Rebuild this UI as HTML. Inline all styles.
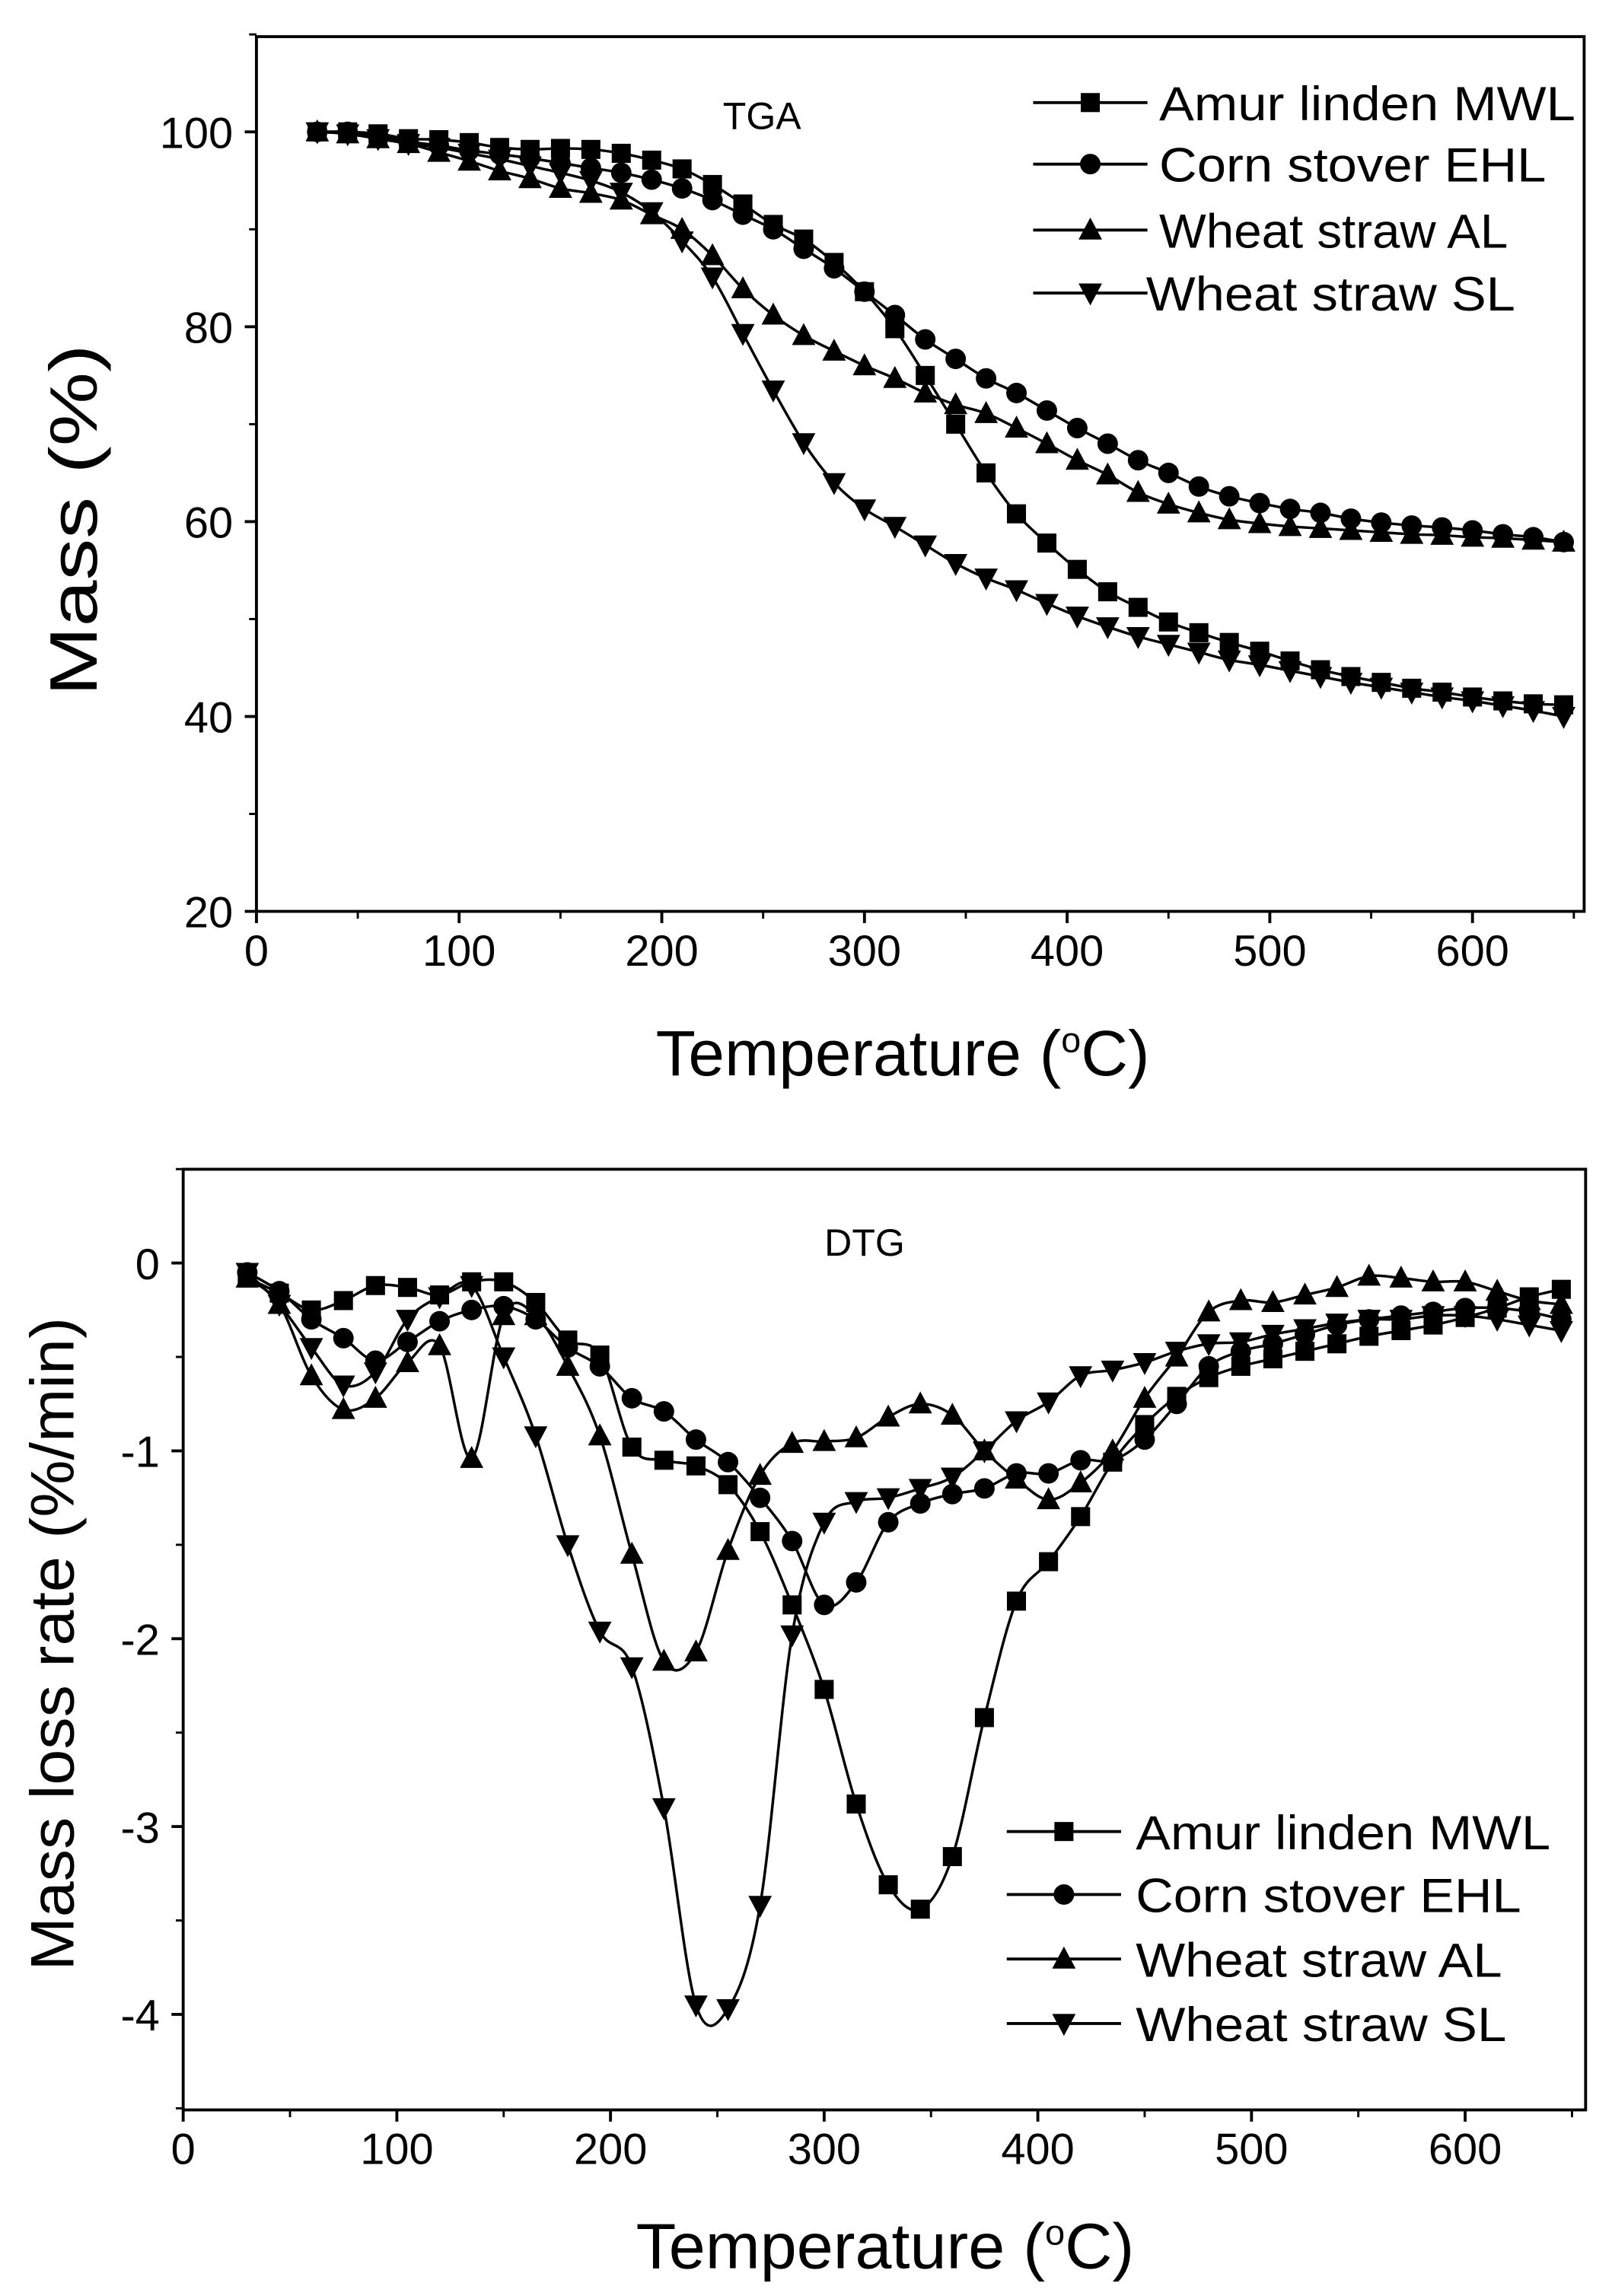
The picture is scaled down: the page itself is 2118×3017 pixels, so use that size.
<!DOCTYPE html>
<html><head><meta charset="utf-8"><style>
html,body{margin:0;padding:0;background:#fff;}
svg{display:block;}
text{font-family:"Liberation Sans",Arial,sans-serif;fill:#000;}
</style></head><body>
<svg id="fig" xmlns="http://www.w3.org/2000/svg" width="2118" height="3017" viewBox="0 0 1100 1567" preserveAspectRatio="none">
<g id="topchart"></g>
<g id="botchart"></g>
</svg>
<script>
const temps = [30,45,60,75,90,105,120,135,150,165,180,195,210,225,240,255,270,285,300,315,330,345,360,375,390,405,420,435,450,465,480,495,510,525,540,555,570,585,600,615,630,645];
const seriesNames = ["Amur linden MWL","Corn stover EHL","Wheat straw AL","Wheat straw SL"];
const tgaMWL = [100,100,99.8,99.3,99.2,98.9,98.4,98.2,98.3,98.2,97.8,97.1,96.2,94.6,92.6,90.5,89.0,86.6,83.6,79.8,75.0,70.0,65.0,60.8,57.8,55.1,52.8,51.2,49.7,48.6,47.6,46.7,45.7,44.8,44.1,43.5,42.9,42.5,42.0,41.6,41.3,41.2];
const tgaEHL = [100,100,99.6,99.0,98.6,98.1,97.7,97.3,96.8,96.3,95.8,95.1,94.2,93.0,91.5,90.0,88.0,86.0,83.6,81.2,78.7,76.7,74.7,73.2,71.4,69.6,68.0,66.3,65.0,63.6,62.6,61.9,61.3,60.9,60.3,59.9,59.6,59.4,59.1,58.7,58.4,57.9];
const tgaAL = [100,99.8,99.3,98.8,97.9,97.0,96.0,95.2,94.2,93.7,93.0,91.5,90.0,87.3,83.9,81.2,79.1,77.5,76.0,74.7,73.2,72.0,71.1,69.6,68.0,66.3,64.8,63.0,61.8,60.9,60.2,59.8,59.5,59.3,59.1,58.9,58.7,58.6,58.4,58.3,58.1,57.9];
const tgaSL = [100,99.8,99.3,98.8,98.4,97.8,97.2,96.5,95.8,95.0,93.8,91.8,88.8,85.1,79.3,73.5,68.1,64.0,61.3,59.5,57.6,55.7,54.2,53.0,51.6,50.3,49.2,48.2,47.4,46.6,45.8,45.3,44.7,44.1,43.5,43.0,42.5,42.0,41.6,41.1,40.6,40.0];
const dtgMWL = [-0.08,-0.16,-0.25,-0.2,-0.12,-0.13,-0.17,-0.1,-0.1,-0.21,-0.41,-0.49,-0.98,-1.05,-1.08,-1.18,-1.43,-1.82,-2.27,-2.88,-3.31,-3.44,-3.16,-2.42,-1.8,-1.59,-1.35,-1.06,-0.86,-0.71,-0.61,-0.55,-0.51,-0.47,-0.43,-0.39,-0.36,-0.33,-0.29,-0.24,-0.18,-0.14];
const dtgEHL = [-0.05,-0.15,-0.3,-0.4,-0.52,-0.42,-0.31,-0.25,-0.23,-0.3,-0.45,-0.55,-0.72,-0.79,-0.94,-1.06,-1.25,-1.48,-1.82,-1.7,-1.38,-1.28,-1.23,-1.2,-1.12,-1.12,-1.05,-1.05,-0.94,-0.75,-0.55,-0.47,-0.43,-0.38,-0.33,-0.3,-0.28,-0.26,-0.24,-0.24,-0.26,-0.3];
const dtgAL = [-0.08,-0.22,-0.6,-0.78,-0.72,-0.53,-0.44,-1.04,-0.28,-0.28,-0.55,-0.92,-1.55,-2.12,-2.07,-1.53,-1.13,-0.96,-0.95,-0.93,-0.82,-0.75,-0.81,-1.0,-1.15,-1.26,-1.17,-1.0,-0.72,-0.5,-0.26,-0.2,-0.21,-0.17,-0.13,-0.07,-0.08,-0.1,-0.1,-0.15,-0.2,-0.22];
const dtgSL = [-0.05,-0.22,-0.45,-0.65,-0.58,-0.3,-0.18,-0.12,-0.5,-0.92,-1.5,-1.96,-2.15,-2.9,-3.95,-3.97,-3.42,-1.98,-1.38,-1.27,-1.25,-1.2,-1.14,-1.0,-0.84,-0.74,-0.6,-0.57,-0.53,-0.47,-0.43,-0.42,-0.38,-0.35,-0.32,-0.3,-0.3,-0.28,-0.28,-0.3,-0.33,-0.36];
const tgaXTicks = [0,100,200,300,400,500,600];
const tgaYTicks = [20,40,60,80,100];
const dtgXTicks = [0,100,200,300,400,500,600];
const dtgYTicks = [0,-1,-2,-3,-4];

const NS="http://www.w3.org/2000/svg";
function mk(parent,tag,attrs){const e=document.createElementNS(NS,tag);for(const k in attrs)e.setAttribute(k,attrs[k]);parent.appendChild(e);return e;}
function spline(pts){let d="M"+pts[0][0]+","+pts[0][1];for(let i=0;i<pts.length-1;i++){const p0=pts[Math.max(0,i-1)],p1=pts[i],p2=pts[i+1],p3=pts[Math.min(pts.length-1,i+2)];const c1x=p1[0]+(p2[0]-p0[0])/6,c1y=p1[1]+(p2[1]-p0[1])/6,c2x=p2[0]-(p3[0]-p1[0])/6,c2y=p2[1]-(p3[1]-p1[1])/6;d+=" C"+c1x+","+c1y+" "+c2x+","+c2y+" "+p2[0]+","+p2[1];}return d;}
function marker(g,type,x,y){let e;
 if(type===0)e=mk(g,"rect",{x:x-6.5,y:y-6.5,width:13,height:13});
 else if(type===1)e=mk(g,"circle",{cx:x,cy:y,r:7});
 else if(type===2)e=mk(g,"polygon",{points:(x-8)+","+(y+6.5)+" "+(x+8)+","+(y+6.5)+" "+x+","+(y-8.5)});
 else e=mk(g,"polygon",{points:(x-8)+","+(y-6.5)+" "+(x+8)+","+(y-6.5)+" "+x+","+(y+8.5)});
 e.setAttribute("fill","#000");return e;}

function chart(g,cfg){
 const {L,R,T,B,xs,ys,xTicks,yTicks,xMinor,yMinor,data,yFmt}=cfg;
 const frame=mk(g,"rect",{x:L,y:T,width:R-L,height:B-T,fill:"none",stroke:"#000","stroke-width":2});
 
 
 xTicks.forEach(v=>{const x=xs(v);mk(g,"line",{x1:x,x2:x,y1:B,y2:B+8,stroke:"#000","stroke-width":2});
  const t=mk(g,"text",{x:x,y:B+37,"font-size":30,"text-anchor":"middle"});t.textContent=v;
  
  });
 xMinor.forEach(v=>{const x=xs(v);mk(g,"line",{x1:x,x2:x,y1:B,y2:B+5,stroke:"#000","stroke-width":1.5});});
 yTicks.forEach(v=>{const y=ys(v);mk(g,"line",{x1:L-8,x2:L,y1:y,y2:y,stroke:"#000","stroke-width":2});
  const t=mk(g,"text",{x:L-16,y:y+11,"font-size":30,"text-anchor":"end"});t.textContent=yFmt(v);
  
  });
 yMinor.forEach(v=>{const y=ys(v);mk(g,"line",{x1:L-5,x2:L,y1:y,y2:y,stroke:"#000","stroke-width":1.5});});
 data.forEach((vals,si)=>{
  const sg=mk(g,"g",{});
  
  
  const pts=temps.map((t,i)=>[xs(t),ys(vals[i])]);
  mk(sg,"path",{d:spline(pts),fill:"none",stroke:"#000","stroke-width":1.8});
  pts.forEach(p=>{const m=marker(sg,si,p[0],p[1]);
   
   });
 });
}
function legend(g,lx1,lx2,tx,rows,fs,tl){
 seriesNames.forEach((n,i)=>{const y=rows[i];const lg=mk(g,"g",{});
  
  
  mk(lg,"line",{x1:lx1,x2:lx2,y1:y,y2:y,stroke:"#000","stroke-width":2});
  marker(lg,i,(lx1+lx2)/2,y);
  const t=mk(lg,"text",{x:tx[i],y:y+12,"font-size":fs,textLength:tl[i],lengthAdjust:"spacingAndGlyphs"});t.textContent=n;});
}
function label(g,txt,x,y,fs,name,rot,len){const t=mk(g,"text",{x:x,y:y,"font-size":fs,"text-anchor":"middle"});
 if(rot)t.setAttribute("transform","rotate(-90 "+x+" "+y+")");
 if(len){t.setAttribute("textLength",len);t.setAttribute("lengthAdjust","spacingAndGlyphs");}
 t.innerHTML=txt;return t;}

const topG=document.getElementById("topchart");
chart(topG,{L:175,R:1081,T:25,B:622,xs:v=>175+v*1.383,ys:v=>90+(100-v)*6.65,
 xTicks:tgaXTicks,yTicks:tgaYTicks,xMinor:[50,150,250,350,450,550,650],yMinor:[30,50,70,90,110],
 data:[tgaMWL,tgaEHL,tgaAL,tgaSL],yFmt:v=>v});
legend(topG,705,783,[791,791,791,782],[70,112,157,200],33,[284,264,238,252]);
label(topG,"TGA",520,88,26,"chart-title-tga");
label(topG,'Temperature (<tspan font-size="24" dy="-16">o</tspan><tspan dy="16">C)</tspan>',616,734,44,"x-axis-title",false,337);
label(topG,"Mass (%)",66,355,46,"y-axis-title",true,240);

const botG=document.getElementById("botchart");
chart(botG,{L:125,R:1082,T:798,B:1440,xs:v=>125+v*1.458,ys:v=>862-v*128.2,
 xTicks:dtgXTicks,yTicks:dtgYTicks,xMinor:[50,150,250,350,450,550,650],yMinor:[0.5,-0.5,-1.5,-2.5,-3.5,-4.5],
 data:[dtgMWL,dtgEHL,dtgAL,dtgSL],yFmt:v=>v===0?"0":String(v)});
legend(botG,687,765,[775,775,775,775],[1250,1293,1337,1381],33,[283,263,250,253]);
label(botG,"DTG",590,857,26,"chart-title-dtg");
label(botG,'Temperature (<tspan font-size="24" dy="-16">o</tspan><tspan dy="16">C)</tspan>',604,1548,44,"x-axis-title",false,340);
label(botG,"Mass loss rate (%/min)",50,1122,42,"y-axis-title",true,446);
</script>
</body></html>
